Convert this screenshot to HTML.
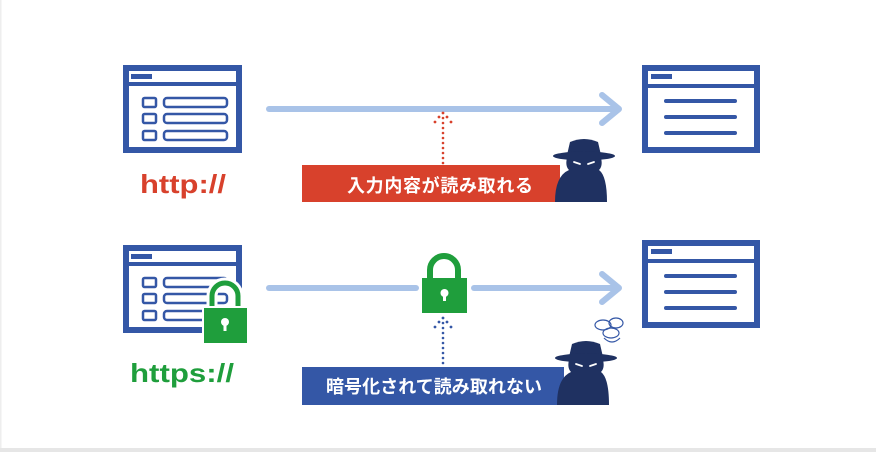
<!DOCTYPE html>
<html><head><meta charset="utf-8"><style>
html,body{margin:0;padding:0;background:#fff;}
svg{display:block}
text{font-family:"Liberation Sans","Noto Sans CJK JP",sans-serif;font-weight:bold}
</style></head><body>
<svg width="876" height="452" viewBox="0 0 876 452" xmlns="http://www.w3.org/2000/svg">
<rect x="0" y="0" width="876" height="452" fill="#fff"/>
<rect x="0" y="0" width="1.5" height="452" fill="#eee"/>
<rect x="0" y="448" width="876" height="4" fill="#e6e6e6"/>

<g fill="none" stroke="#3457a6">
<rect x="126" y="68" width="113" height="82" stroke-width="6"/>
<line x1="126" y1="84" x2="239" y2="84" stroke-width="4"/>
<rect x="143" y="98" width="13" height="9" stroke-width="2.5" rx="1.5"/>
<rect x="143" y="114" width="13" height="9" stroke-width="2.5" rx="1.5"/>
<rect x="143" y="131" width="13" height="9" stroke-width="2.5" rx="1.5"/>
<rect x="164" y="98" width="63" height="9" stroke-width="2.5" rx="3"/>
<rect x="164" y="114" width="63" height="9" stroke-width="2.5" rx="3"/>
<rect x="164" y="131" width="63" height="9" stroke-width="2.5" rx="3"/>
</g>
<rect x="131" y="74" width="21" height="5" fill="#3457a6"/>
<text x="140" y="193" font-size="26" fill="#d8412c" textLength="86" lengthAdjust="spacingAndGlyphs">http://</text>

<g fill="none" stroke="#3457a6">
<rect x="645" y="68" width="112" height="82" stroke-width="6"/>
<line x1="645" y1="86" x2="757" y2="86" stroke-width="4"/>
<g stroke-width="4" stroke-linecap="round"><line x1="666" y1="101" x2="735" y2="101"/><line x1="666" y1="117" x2="735" y2="117"/><line x1="666" y1="133" x2="735" y2="133"/></g>
</g>
<rect x="651" y="74" width="21" height="5" fill="#3457a6"/>

<g stroke="#a9c3e8" stroke-width="6" fill="none" stroke-linecap="round" stroke-linejoin="round">
<line x1="269" y1="109" x2="618" y2="109"/>
<polyline points="602,95 619,109 602,123"/>
</g>
<g fill="#d8412c">
<circle cx="443" cy="113" r="1.4"/><circle cx="439" cy="117" r="1.4"/><circle cx="447" cy="117" r="1.4"/><circle cx="435" cy="122" r="1.4"/><circle cx="451" cy="122" r="1.4"/>
<circle cx="443" cy="118" r="1.3"/><circle cx="443" cy="123" r="1.3"/><circle cx="443" cy="128" r="1.3"/><circle cx="443" cy="133" r="1.3"/><circle cx="443" cy="138" r="1.3"/><circle cx="443" cy="143" r="1.3"/><circle cx="443" cy="148" r="1.3"/><circle cx="443" cy="153" r="1.3"/><circle cx="443" cy="158" r="1.3"/><circle cx="443" cy="163" r="1.3"/>
</g>
<rect x="302" y="165" width="258" height="37" fill="#d8412c"/>
<text x="347" y="192" font-size="18" fill="#fff" textLength="186" lengthAdjust="spacing">入力内容が読み取れる</text>
<g fill="#1f3161">
<path d="M567,155 L570,142 Q584,136 598,142 L601,155 Z"/>
<ellipse cx="584" cy="156" rx="31" ry="4.5"/>
<path d="M567,158 L601,158 Q603,166 599,170 Q607,176 607,202 L555,202 Q555,176 569,170 Q565,166 567,158 Z"/>
</g>
<g stroke="#fff" stroke-width="1.8" stroke-linecap="round"><line x1="574" y1="162" x2="580" y2="164"/><line x1="594" y1="162" x2="588" y2="164"/></g>

<g fill="none" stroke="#3457a6">
<rect x="126" y="248" width="113" height="82" stroke-width="6"/>
<line x1="126" y1="264" x2="239" y2="264" stroke-width="4"/>
<rect x="143" y="278" width="13" height="9" stroke-width="2.5" rx="1.5"/>
<rect x="143" y="294" width="13" height="9" stroke-width="2.5" rx="1.5"/>
<rect x="143" y="311" width="13" height="9" stroke-width="2.5" rx="1.5"/>
<rect x="164" y="278" width="63" height="9" stroke-width="2.5" rx="3"/>
<rect x="164" y="294" width="63" height="9" stroke-width="2.5" rx="3"/>
<rect x="164" y="311" width="63" height="9" stroke-width="2.5" rx="3"/>
</g>
<rect x="131" y="254" width="21" height="5" fill="#3457a6"/>
<path d="M212,308 V296 A13,13 0 0 1 238,296 V308" fill="none" stroke="#fff" stroke-width="11"/>
<path d="M212,308 V296 A13,13 0 0 1 238,296 V308" fill="none" stroke="#1f9e3c" stroke-width="5"/>
<rect x="203" y="307" width="45" height="37" fill="#1f9e3c" stroke="#fff" stroke-width="2"/>
<circle cx="225" cy="322" r="4" fill="#fff"/><rect x="223.5" y="322" width="3" height="9" fill="#fff"/>
<text x="130" y="382" font-size="26" fill="#1f9e3c" textLength="104" lengthAdjust="spacingAndGlyphs">https://</text>

<g fill="none" stroke="#3457a6">
<rect x="645" y="243" width="112" height="82" stroke-width="6"/>
<line x1="645" y1="261" x2="757" y2="261" stroke-width="4"/>
<g stroke-width="4" stroke-linecap="round"><line x1="666" y1="276" x2="735" y2="276"/><line x1="666" y1="292" x2="735" y2="292"/><line x1="666" y1="308" x2="735" y2="308"/></g>
</g>
<rect x="651" y="249" width="21" height="5" fill="#3457a6"/>

<g stroke="#a9c3e8" stroke-width="6" fill="none" stroke-linecap="round" stroke-linejoin="round">
<line x1="269" y1="288" x2="416" y2="288"/>
<line x1="474" y1="288" x2="618" y2="288"/>
<polyline points="602,274 619,288 602,302"/>
</g>
<path d="M430,281 V270 A14,14 0 0 1 458,270 V281" fill="none" stroke="#1f9e3c" stroke-width="6"/>
<rect x="422" y="278" width="45" height="35" fill="#1f9e3c"/>
<circle cx="444.5" cy="293" r="4" fill="#fff"/><rect x="443" y="293" width="3" height="8" fill="#fff"/>
<g fill="#3457a6">
<circle cx="443" cy="318" r="1.4"/><circle cx="439" cy="322" r="1.4"/><circle cx="447" cy="322" r="1.4"/><circle cx="435" cy="327" r="1.4"/><circle cx="451" cy="327" r="1.4"/>
<circle cx="443" cy="323" r="1.3"/><circle cx="443" cy="328" r="1.3"/><circle cx="443" cy="333" r="1.3"/><circle cx="443" cy="338" r="1.3"/><circle cx="443" cy="343" r="1.3"/><circle cx="443" cy="348" r="1.3"/><circle cx="443" cy="353" r="1.3"/><circle cx="443" cy="358" r="1.3"/><circle cx="443" cy="363" r="1.3"/>
</g>
<rect x="302" y="367" width="262" height="38" fill="#3457a6"/>
<text x="326" y="393" font-size="18" fill="#fff" textLength="216" lengthAdjust="spacing">暗号化されて読み取れない</text>
<g fill="none" stroke="#3457a6" stroke-width="1.2">
<ellipse cx="603" cy="325" rx="8" ry="5"/><ellipse cx="616" cy="323" rx="7" ry="5"/><ellipse cx="611" cy="333" rx="8" ry="5"/><path d="M604,338 Q612,346 620,338"/>
</g>
<g fill="#1f3161">
<path d="M569,357 L572,344 Q586,338 600,344 L603,357 Z"/>
<ellipse cx="586" cy="358" rx="31" ry="4.5"/>
<path d="M569,360 L603,360 Q605,368 601,372 Q609,378 609,405 L557,405 Q557,378 571,372 Q567,368 569,360 Z"/>
</g>
<g stroke="#fff" stroke-width="1.8" stroke-linecap="round"><line x1="576" y1="364" x2="582" y2="366"/><line x1="596" y1="364" x2="590" y2="366"/></g>
</svg>
</body></html>
